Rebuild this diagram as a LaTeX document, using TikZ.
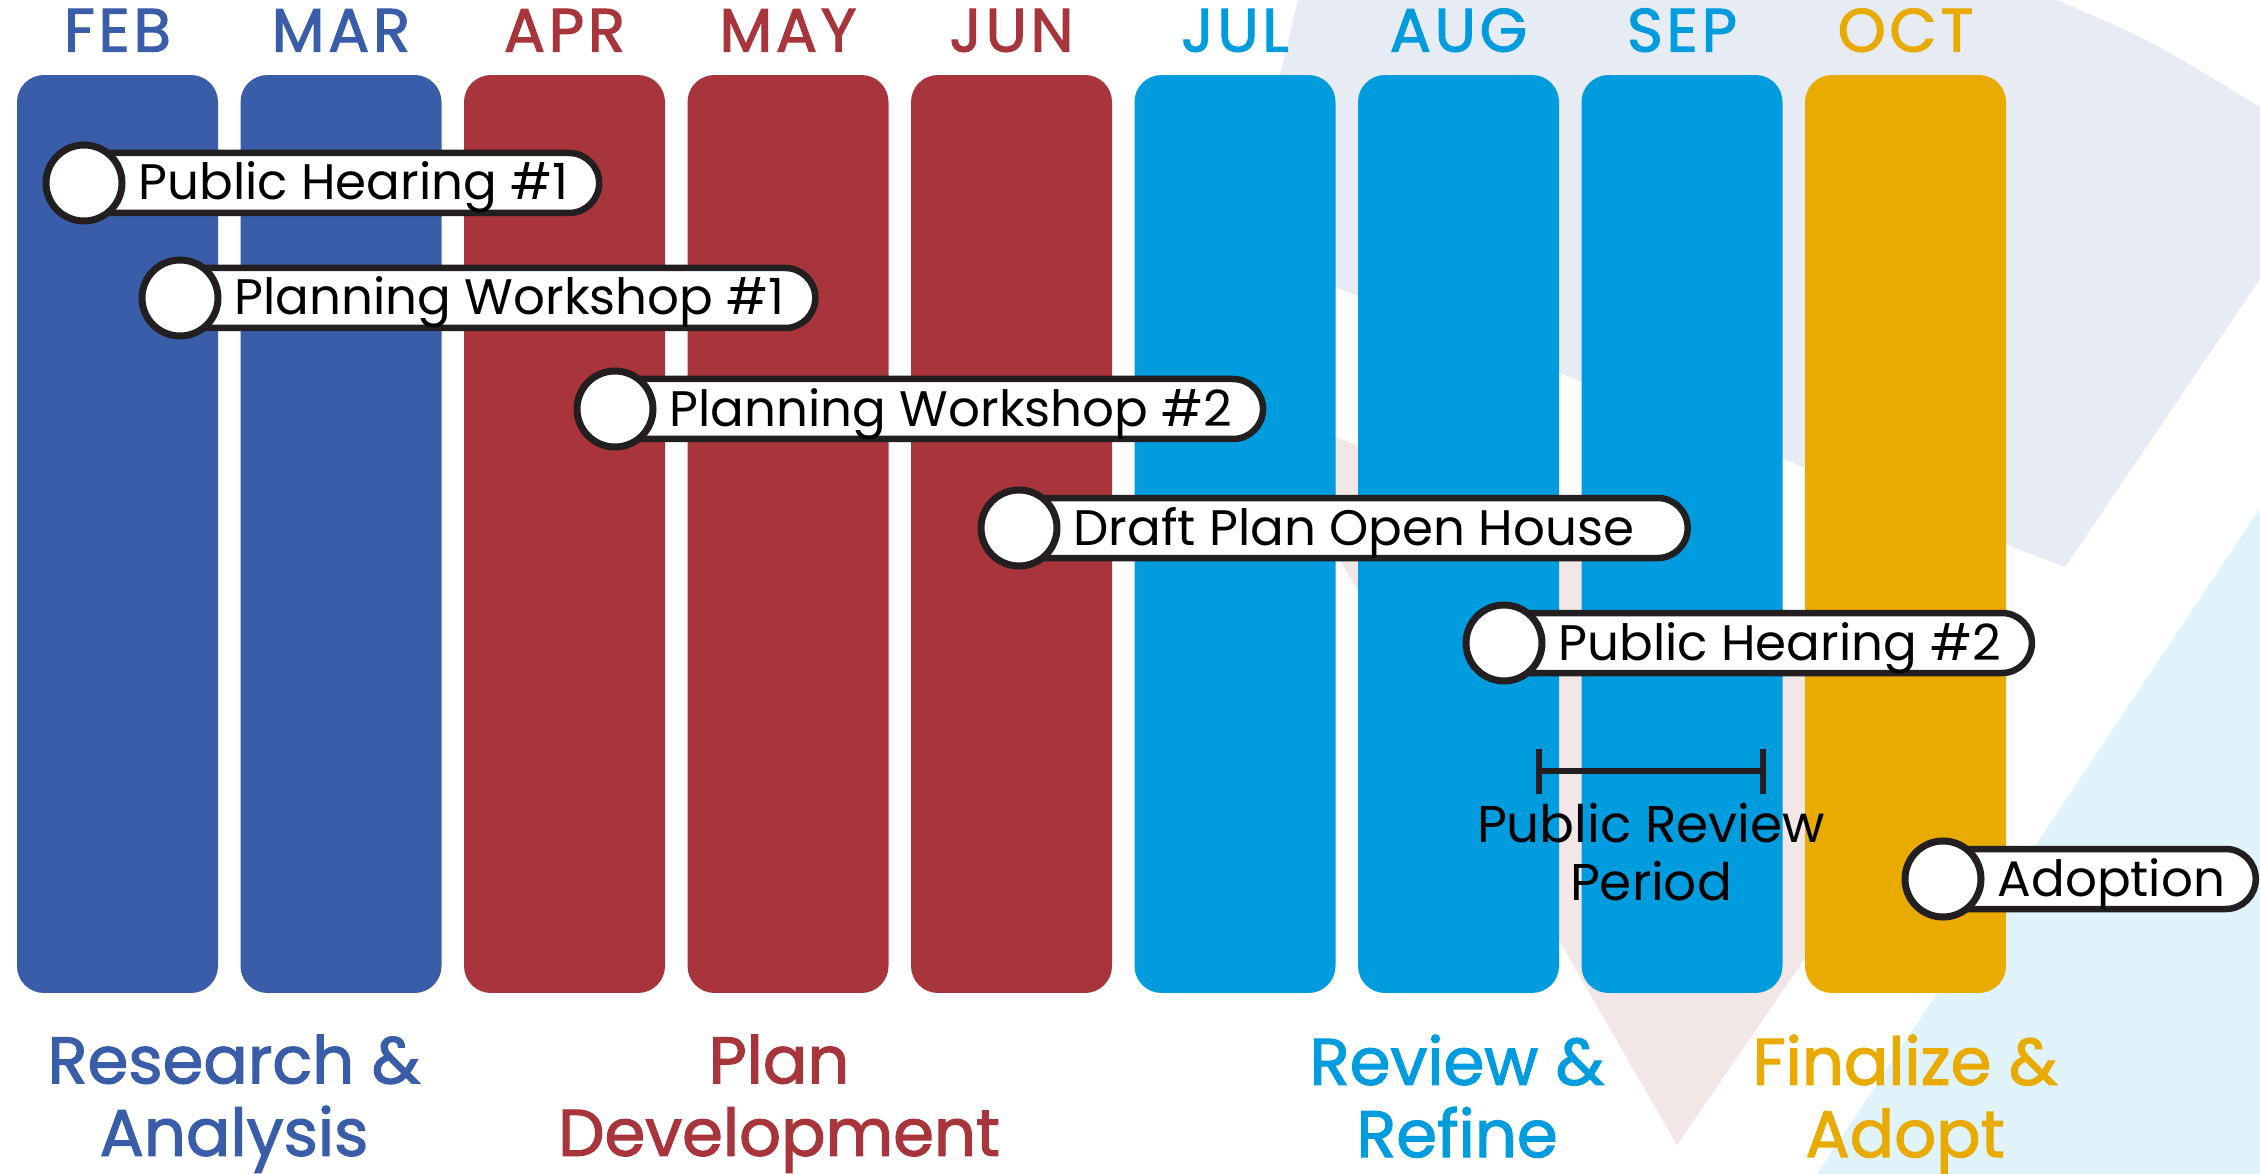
\documentclass[tikz,border=0pt]{standalone}
\usepackage{fontspec}
\setmainfont{Poppins}
\usetikzlibrary{positioning, fit, backgrounds, arrows.meta}

\definecolor{resblue}{HTML}{3A5DA9}
\definecolor{planred}{HTML}{A7353B}
\definecolor{revcyan}{HTML}{009CDE}
\definecolor{adoptgold}{HTML}{E9AB00}
\definecolor{inkblack}{HTML}{231F20}
\definecolor{bggray}{HTML}{E6EBF4}
\definecolor{bgpink}{HTML}{F2E6E6}
\definecolor{bgcyan}{HTML}{E0F2FA}

\begin{document}
\begin{tikzpicture}[x=0.1mm, y=-0.1mm,
	col/.style={rounded corners=2.7mm, minimum width=20.1mm, minimum height=91.8mm, inner sep=0},
	month/.style={font=\fontsize{17.4}{19}\selectfont\addfontfeature{FakeBold=1.8, LetterSpace=6}, inner sep=0, text height=4mm, text depth=0mm},
	phase/.style={font=\fontsize{18.7}{20.6}\selectfont\addfontfeature{FakeBold=1.8}, align=center, inner sep=0, text depth=0mm, anchor=north},
	dot/.style={circle, draw=inkblack, line width=0.7mm, fill=white, minimum size=7.6mm, inner sep=0},
	evtext/.style={font=\fontsize{14.2}{16}\selectfont, inner sep=0, text height=3.4mm, text depth=0mm},
	pill/.style={draw=inkblack, line width=0.65mm, fill=white, rounded corners=3mm, inner xsep=3mm, inner ysep=3mm},
	bracket/.style={draw=inkblack, line width=0.6mm, arrows={Bar[width=4.5mm]-Bar[width=4.5mm]}},
	review/.style={font=\fontsize{14.7}{16.5}\selectfont, align=center, inner sep=0}]
	\useasboundingbox (0,0) rectangle (2260,1174);
	\begin{scope}[on background layer]
	\fill[white] (0,0) rectangle (2260,1174);
	% stripes behind the months
	\fill[bggray] (1298,0) -- (1238,250) -- (2065,567) -- (2260,279) -- (2260,107) .. controls (2150,40) .. (2057,0) -- cycle;
	\fill[bgpink] (1250,404) -- (1990,688) -- (1677,1145) -- cycle;
	\fill[bgcyan] (2262,505) -- (1817,1174) -- (2260,1174) -- cycle;
	\node[col, fill=resblue] (feb) at (117.5,534) {};
	\node[col, fill=resblue] (mar) at (341,534) {};
	\node[col, fill=planred] (apr) at (564.5,534) {};
	\node[col, fill=planred] (may) at (788,534) {};
	\node[col, fill=planred] (jun) at (1011.5,534) {};
	\node[col, fill=revcyan] (jul) at (1235,534) {};
	\node[col, fill=revcyan] (aug) at (1458.5,534) {};
	\node[col, fill=revcyan] (sep) at (1682,534) {};
	\node[col, fill=adoptgold] (oct) at (1905.5,534) {};
	\end{scope}

	\node[month, text=resblue, above=2.2mm of feb] (febtxt) {FEB};
	\node[month, text=resblue, above=2.2mm of mar] (martxt) {MAR};
	\node[month, text=planred, above=2.2mm of apr] (aprtxt) {APR};
	\node[month, text=planred, above=2.2mm of may] (maytxt) {MAY};
	\node[month, text=planred, above=2.2mm of jun] (juntxt) {JUN};
	\node[month, text=revcyan, above=2.2mm of jul] (jultxt) {JUL};
	\node[month, text=revcyan, above=2.2mm of aug] (augtxt) {AUG};
	\node[month, text=revcyan, above=2.2mm of sep] (septxt) {SEP};
	\node[month, text=adoptgold, above=2.2mm of oct] (octtxt) {OCT};

	% milestones
	\node[dot] (hear1) at (84,183) {};
	\node[evtext, right=5.4mm of hear1.center] (hear1txt) {Public Hearing \#1};
	\node[dot] (shop1) at (180,298) {};
	\node[evtext, right=5.4mm of shop1.center] (shop1txt) {Planning Workshop \#1};
	\node[dot] (shop2) at (615,409) {};
	\node[evtext, right=5.4mm of shop2.center] (shop2txt) {Planning Workshop \#2};
	\node[dot] (draft) at (1019,528) {};
	\node[evtext, right=5.4mm of draft.center] (drafttxt) {Draft Plan Open House};
	\coordinate[right=2.3mm of drafttxt.east] (draftend);
	\node[dot] (hear2) at (1504,643) {};
	\node[evtext, right=5.4mm of hear2.center] (hear2txt) {Public Hearing \#2};
	\node[dot] (adopt) at (1943,879) {};
	\node[evtext, right=5.4mm of adopt.center] (adopttxt) {Adoption};
	\begin{scope}[on background layer]
	\node[pill, fit=(hear1.center)(hear1txt.east)] (hear1pill) {};
	\node[pill, fit=(shop1.center)(shop1txt.east)] (shop1pill) {};
	\node[pill, fit=(shop2.center)(shop2txt.east)] (shop2pill) {};
	\node[pill, fit=(draft.center)(draftend)] (draftpill) {};
	\node[pill, fit=(hear2.center)(hear2txt.east)] (hear2pill) {};
	\node[pill, fit=(adopt.center)(adopttxt.east)] (adoptpill) {};
	\end{scope}

	\coordinate (revstart) at (1536,771);
	\coordinate (revend) at (1766,771);
	\draw[bracket] (revstart) -- node[review, below=2.9mm] (revtxt) {Public Review\\Period} (revend);

	\node[phase, text=resblue] (research) at (234,1034) {Research \&\\Analysis};
	\node[phase, text=planred] (plandev) at (779,1034) {Plan\\Development};
	\node[phase, text=revcyan] (refine) at (1457,1034) {Review \&\\Refine};
	\node[phase, text=adoptgold] (finalize) at (1905,1034) {Finalize \&\\Adopt};
\end{tikzpicture}
\end{document}
